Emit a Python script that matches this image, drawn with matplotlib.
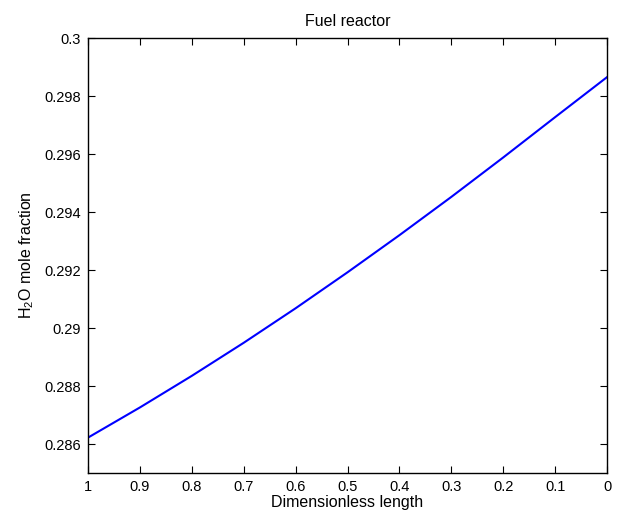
import matplotlib
matplotlib.use("Agg")
import matplotlib.pyplot as plt

# ---------- data ----------
length = [1.0, 0.9, 0.8, 0.7, 0.6, 0.5, 0.4, 0.3, 0.2, 0.1, 0.0]
h2o    = [0.28622, 0.28726, 0.28835, 0.28949, 0.29068, 0.29192,
          0.29320, 0.29452, 0.29588, 0.29727, 0.29865]
xticks = [1, 0.9, 0.8, 0.7, 0.6, 0.5, 0.4, 0.3, 0.2, 0.1, 0]
yticks = [0.286, 0.288, 0.29, 0.292, 0.294, 0.296, 0.298, 0.3]

plt.rcParams["font.family"] = ["Liberation Sans", "DejaVu Sans"]
plt.rcParams["mathtext.fontset"] = "custom"
plt.rcParams["mathtext.rm"] = "Liberation Sans"
plt.rcParams["mathtext.it"] = "Liberation Sans:italic"

fig = plt.figure(figsize=(6.2, 5.15), dpi=100)
ax = fig.add_axes([88 / 620, 1 - 473 / 515, 519 / 620, 435 / 515])

ax.plot(length, h2o, color="blue", linewidth=1.5)

ax.set_xlim(1, 0)
ax.set_ylim(0.285, 0.3)
ax.set_xticks(xticks)
ax.set_xticklabels([f"{v:g}" for v in xticks])
ax.set_yticks(yticks)
ax.set_yticklabels([f"{v:g}" for v in yticks])
ax.tick_params(direction="in", top=True, right=True, length=5,
               width=0.8, labelsize=10.5, pad=5)
for s in ax.spines.values():
    s.set_linewidth(1.0)

ax.set_title("Fuel reactor", fontsize=11.5, pad=9)
ax.set_xlabel("Dimensionless length", fontsize=11.5, labelpad=1)
ax.set_ylabel(r"H$_2$O mole fraction", fontsize=11.5, labelpad=6)

fig.savefig("out.png", dpi=100)
